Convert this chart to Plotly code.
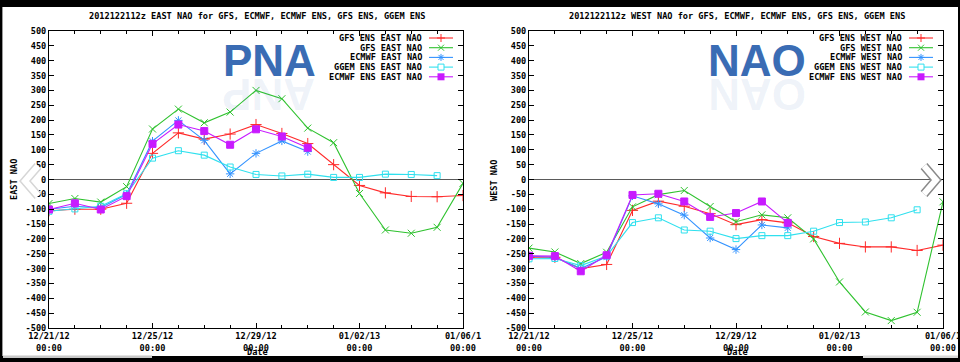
import plotly.graph_objects as go

# ---------------- data ----------------
dates = ["2012-12-21", "2012-12-22", "2012-12-23", "2012-12-24", "2012-12-25",
         "2012-12-26", "2012-12-27", "2012-12-28", "2012-12-29", "2012-12-30",
         "2012-12-31", "2013-01-01", "2013-01-02", "2013-01-03", "2013-01-04",
         "2013-01-05", "2013-01-06"]

N = None
east_gfs_ens = [-105, -100, -100, -80, 88, 157, 136, 153, 185, 155, 121, 50, -20, -45, -57, -58, -54]
east_gfs = [-81, -64, -76, -24, 170, 237, 191, 227, 300, 272, 173, 124, -47, -170, -181, -161, -13]
east_ecmwf = [-100, -90, -95, -50, 129, 199, 132, 19, 88, 130, 94, N, N, N, N, N, N]
east_ggem_ens = [-107, -99, -90, -48, 72, 97, 82, 42, 17, 12, 18, 7, 7, 18, 17, 13, N]
east_ecmwf_ens = [-101, -80, -101, -56, 120, 185, 163, 117, 169, 145, 107, N, N, N, N, N, N]

west_gfs_ens = [-262, -262, -300, -286, -104, -73, -90, -115, -152, -135, -146, -192, -215, -227, -227, -239, -221]
west_gfs = [-231, -244, -283, -245, -92, -51, -37, -91, -142, -119, -129, -200, -345, -446, -475, -447, -75]
west_ecmwf = [-258, -262, -300, -260, -55, -82, -120, -197, -236, -153, -163, N, N, N, N, N, N]
west_ggem_ens = [-267, -266, -290, -258, -145, -129, -170, -174, -199, -189, -189, -174, -145, -143, -129, -102, N]
west_ecmwf_ens = [-257, -258, -309, -255, -52, -48, -74, -126, -113, -74, -146, N, N, N, N, N, N]

x_tickvals = ["2012-12-21", "2012-12-25", "2012-12-29", "2013-01-02", "2013-01-06"]
x_ticktext = ["12/21/12<br>00:00", "12/25/12<br>00:00", "12/29/12<br>00:00",
              "01/02/13<br>00:00", "01/06/1<br>00:00"]
y_tickvals = list(range(-500, 501, 50))
y_ticktext = [str(v) for v in y_tickvals]

series_names = ["GFS ENS {} NAO", "GFS {} NAO", "ECMWF {} NAO", "GGEM ENS {} NAO", "ECMWF ENS {} NAO"]
colors = ["#ff2a2a", "#2fc22f", "#3393ff", "#2fe0ee", "#c81aff"]
symbols = ["cross-thin-open", "x-thin-open", "asterisk-open", "square-open", "square"]
msizes = [8, 7, 7, 6, 7]

title_text = "2012122112z {} NAO for GFS, ECMWF, ECMWF ENS, GFS ENS, GGEM ENS"

# ---------------- layout helpers ----------------
W, H = 960, 362
def xp(px):
    return px / W
def yp(py):
    return 1 - py / H

MONO = "DejaVu Sans Mono"
FS = 8.6

fig = go.Figure()

panels = [
    dict(region="EAST", data=[east_gfs_ens, east_gfs, east_ecmwf, east_ggem_ens, east_ecmwf_ens],
         x0=49, x1=463, xa="x", ya="y", logo="PNA", logo_rev="ANP", logo_x=269),
    dict(region="WEST", data=[west_gfs_ens, west_gfs, west_ecmwf, west_ggem_ens, west_ecmwf_ens],
         x0=529, x1=943, xa="x2", ya="y2", logo="NAO", logo_rev="OAN", logo_x=757),
]
PT, PB = 31, 328

for p in panels:
    for i, vals in enumerate(p["data"]):
        fig.add_trace(go.Scatter(
            x=dates, y=vals, xaxis=p["xa"], yaxis=p["ya"], mode="lines+markers",
            line=dict(color=colors[i], width=1.1),
            marker=dict(symbol=symbols[i], size=msizes[i], color=colors[i],
                        line=dict(color=colors[i], width=1)),
            connectgaps=False, showlegend=False, name=series_names[i].format(p["region"])))

axis_common_x = dict(type="date", range=["2012-12-21", "2013-01-06"], automargin=False,
                     ticklabeloverflow="allow",
                     tickvals=x_tickvals, ticktext=x_ticktext, ticks="inside", ticklen=5,
                     tickcolor="black", showline=True, linecolor="black", linewidth=1,
                     mirror="allticks", showgrid=False, zeroline=False,
                     tickfont=dict(family=MONO, size=FS, color="black", weight="bold"),
                     minor=dict(dtick=86400000, ticks="inside", ticklen=3, tickcolor="black",
                                showgrid=False),
                     fixedrange=True)
axis_common_y = dict(range=[-500, 500], tickvals=y_tickvals, ticktext=y_ticktext, automargin=False,
                     ticks="inside", ticklen=5, tickcolor="black", showline=True,
                     linecolor="black", linewidth=1, mirror="allticks", showgrid=False,
                     zeroline=True, zerolinecolor="#5a5a5a", zerolinewidth=1.3,
                     tickfont=dict(family=MONO, size=FS, color="black", weight="bold"),
                     fixedrange=True)

fig.update_layout(
    xaxis=dict(domain=[xp(49), xp(463)], anchor="y", **axis_common_x),
    yaxis=dict(domain=[yp(PB), yp(PT)], anchor="x", **axis_common_y),
    xaxis2=dict(domain=[xp(529), xp(943)], anchor="y2", **axis_common_x),
    yaxis2=dict(domain=[yp(PB), yp(PT)], anchor="x2", **axis_common_y),
)

shapes = []
annotations = []

# page frame
shapes.append(dict(type="rect", xref="paper", yref="paper", x0=xp(2), x1=xp(958), y0=yp(356), y1=yp(7),
                   fillcolor="white", line=dict(width=0), layer="below"))
shapes.append(dict(type="line", xref="paper", yref="paper", x0=xp(2.5), x1=xp(2.5), y0=yp(356), y1=yp(7),
                   line=dict(color="#9a9a9a", width=1), layer="below"))
shapes.append(dict(type="rect", xref="paper", yref="paper", x0=xp(3), x1=xp(152), y0=yp(358), y1=yp(355.5),
                   fillcolor="#c8c8c8", line=dict(width=0), layer="below"))
shapes.append(dict(type="rect", xref="paper", yref="paper", x0=xp(863), x1=xp(958), y0=yp(358), y1=yp(355.5),
                   fillcolor="#d8d8d8", line=dict(width=0), layer="below"))

def seg(x0, y0, x1, y1, color, w=1):
    return dict(type="line", xref="paper", yref="paper", x0=xp(x0), y0=yp(y0), x1=xp(x1), y1=yp(y1),
                line=dict(color=color, width=w))

for p in panels:
    off = p["x0"] - 49
    cx = (p["x0"] + p["x1"]) / 2
    annotations.append(dict(text=title_text.format(p["region"]), x=xp(cx + 1), y=yp(16),
                            xref="paper", yref="paper", showarrow=False, xanchor="center", yanchor="middle",
                            font=dict(family=MONO, size=FS, color="black", weight="bold")))
    annotations.append(dict(text=p["region"] + " NAO", x=xp(14 + off), y=yp(180), textangle=-90,
                            xref="paper", yref="paper", showarrow=False, xanchor="center", yanchor="middle",
                            font=dict(family=MONO, size=FS, color="black", weight="bold")))
    annotations.append(dict(text="Date", x=xp(cx + 1), y=yp(352),
                            xref="paper", yref="paper", showarrow=False, xanchor="center", yanchor="middle",
                            font=dict(family=MONO, size=FS, color="black", weight="bold")))
    # logo and reflection
    annotations.append(dict(text=p["logo_rev"], x=xp(p["logo_x"]), y=yp(95), textangle=180,
                            xref="paper", yref="paper", showarrow=False, xanchor="center", yanchor="middle",
                            font=dict(family="Liberation Sans", size=44, color="rgba(90,130,200,0.10)",
                                      weight="bold")))
    annotations.append(dict(text=p["logo"], x=xp(p["logo_x"]), y=yp(60),
                            xref="paper", yref="paper", showarrow=False, xanchor="center", yanchor="middle",
                            font=dict(family="Liberation Sans", size=44, color="#3a6cb4", weight="bold")))
    # legend
    for i in range(5):
        ly = 38 + i * 9.7
        annotations.append(dict(text=series_names[i].format(p["region"]), x=xp(424 + off), y=yp(ly),
                                xref="paper", yref="paper", showarrow=False, xanchor="right",
                                yanchor="middle",
                                font=dict(family=MONO, size=FS, color="black", weight="bold")))
        c = colors[i]
        mx = 441 + off
        shapes.append(seg(429 + off, ly, 453 + off, ly, c, 1.1))
        if i == 0:
            shapes.append(seg(mx - 4, ly, mx + 4, ly, c))
            shapes.append(seg(mx, ly - 4, mx, ly + 4, c))
        elif i == 1:
            shapes.append(seg(mx - 3, ly - 3, mx + 3, ly + 3, c))
            shapes.append(seg(mx - 3, ly + 3, mx + 3, ly - 3, c))
        elif i == 2:
            shapes.append(seg(mx - 3.5, ly, mx + 3.5, ly, c))
            shapes.append(seg(mx, ly - 3.5, mx, ly + 3.5, c))
            shapes.append(seg(mx - 2.5, ly - 2.5, mx + 2.5, ly + 2.5, c))
            shapes.append(seg(mx - 2.5, ly + 2.5, mx + 2.5, ly - 2.5, c))
        elif i == 3:
            shapes.append(dict(type="rect", xref="paper", yref="paper", x0=xp(mx - 3), x1=xp(mx + 3),
                               y0=yp(ly + 3), y1=yp(ly - 3), fillcolor="white", line=dict(color=c, width=1)))
        else:
            shapes.append(dict(type="rect", xref="paper", yref="paper", x0=xp(mx - 3.5), x1=xp(mx + 3.5),
                               y0=yp(ly + 3.5), y1=yp(ly - 3.5), fillcolor=c, line=dict(color=c, width=0)))

# carousel chevrons
def chevron(pts, outer, inner):
    path = "M " + " L ".join(f"{xp(a)},{yp(b)}" for a, b in pts)
    return [dict(type="path", xref="paper", yref="paper", path=path, line=dict(color=outer, width=9)),
            dict(type="path", xref="paper", yref="paper", path=path, line=dict(color=inner, width=6))]

shapes += chevron([(924, 166), (936, 180), (924, 194)], "#8a8a8a", "white")
shapes += chevron([(38, 166), (25, 181), (38, 196)], "#d6d6d6", "white")

fig.update_layout(width=W, height=H, autosize=False, margin=dict(l=0, r=0, t=0, b=0, autoexpand=False),
                  paper_bgcolor="black", plot_bgcolor="white", showlegend=False,
                  shapes=shapes, annotations=annotations)

fig.write_html("out.html", config={"displayModeBar": False, "staticPlot": True},
               post_script="document.body.style.margin='0';document.body.style.padding='0';"
                           "document.body.style.overflow='hidden';"
                           "document.documentElement.style.overflow='hidden';")
